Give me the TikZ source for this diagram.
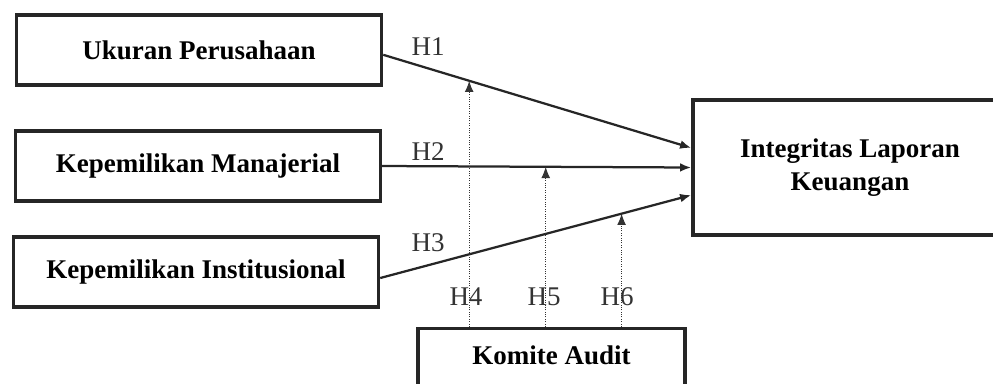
\documentclass[tikz,border=0pt]{standalone}
\usepackage{fontspec}
\setmainfont{Liberation Serif}
\usetikzlibrary{positioning,arrows.meta}

\begin{document}
\begin{tikzpicture}[
    x=0.025cm, y=-0.025cm,
    box/.style={
        draw=black!85,
        line width=2.4pt,
        minimum width=9.125cm,
        minimum height=1.75cm,
        align=center,
        font=\fontsize{19.2}{23}\selectfont\bfseries
    },
    hyp/.style={
        font=\fontsize{19.2}{23}\selectfont,
        text=black!80,
        inner sep=0pt
    },
    arr/.style={
        -{Latex[length=2.8mm,width=2.2mm]},
        line width=1.6pt,
        draw=black!85
    },
    dotarr/.style={
        -{Latex[length=2.8mm,width=2.2mm]},
        line width=0.7pt,
        densely dotted,
        draw=black!80
    }
]
\useasboundingbox (0,0) rectangle (993,383);
\clip (0,0) rectangle (993,383);

\node[box] (ukuran) at (199,50) {Ukuran Perusahaan};
\node[box] (manajerial) at (198,166) {Kepemilikan Manajerial};
\node[box] (institusional) at (196,272) {Kepemilikan Institusional};
\node[box, minimum width=7.85cm, minimum height=3.375cm] (integritas) at (850,167.5) {Integritas Laporan\\Keuangan};
\node[box, anchor=north, minimum width=6.675cm, minimum height=0pt,
      text height=0.9cm, text depth=0.75cm, inner ysep=0pt] (komite) at (551.5,327) {Komite Audit};

\draw[arr] ([yshift=-0.12cm]ukuran.east) -- coordinate[pos=0.279] (m1) ([yshift=0.49cm]integritas.west);
\draw[arr] (manajerial.east) -- coordinate[pos=0.529] (m2) (integritas.west);
\draw[arr] ([yshift=-0.15cm]institusional.east) -- coordinate[pos=0.776] (m3) ([yshift=-0.69cm]integritas.west);

\draw[dotarr] (komite.north -| m1) -- (m1);
\draw[dotarr] (komite.north -| m2) -- (m2);
\draw[dotarr] (komite.north -| m3) -- (m3);

\node[hyp] (h1) at (428,47) {H1};
\node[hyp] (h2) at (428,152) {H2};
\node[hyp] (h3) at (428,243) {H3};
\node[hyp] (h4) at (466,297) {H4};
\node[hyp] (h5) at (544,297) {H5};
\node[hyp] (h6) at (617,297) {H6};

\end{tikzpicture}
\end{document}
